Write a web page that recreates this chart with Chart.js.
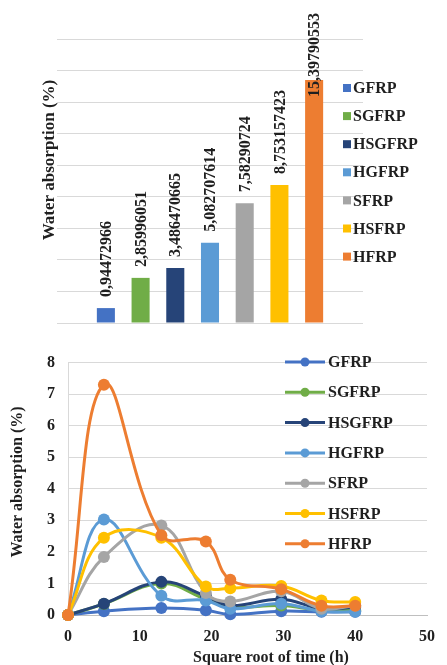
<!DOCTYPE html>
<html>
<head>
<meta charset="utf-8">
<script src="https://cdn.jsdelivr.net/npm/chart.js@4.4.1/dist/chart.umd.min.js"></script>
<style>
  html, body { margin: 0; padding: 0; background: #fff; }
  #wrap { position: relative; width: 447px; height: 665px; }
  #top { position: absolute; left: 0; top: 0; width: 447px; height: 340px; }
  #bottom { position: absolute; left: 0; top: 340px; width: 447px; height: 325px; }
</style>
</head>
<body>
<div id="wrap">
  <div id="top"><canvas id="barChart"></canvas></div>
  <div id="bottom"><canvas id="lineChart"></canvas></div>
</div>
<script>
// composites
const materials = ['GFRP', 'SGFRP', 'HSGFRP', 'HGFRP', 'SFRP', 'HSFRP', 'HFRP'];
// total water absorption (%)
const totalAbsorption = [0.94472966, 2.85996051, 3.486470665, 5.082707614, 7.58290724, 8.753157423, 15.39790553];

// square root of time (h)
const sqrtTime = [0, 5, 13, 19.2, 22.6, 29.7, 35.3, 40];
const gfrp   = [0, 0.12, 0.22, 0.15, 0.02, 0.12, 0.10, 0.10];
const sgfrp  = [0, 0.35, 1.00, 0.50, 0.25, 0.30, 0.15, 0.15];
const hsgfrp = [0, 0.36, 1.05, 0.60, 0.30, 0.50, 0.20, 0.25];
const hgfrp  = [0, 3.03, 0.61, 0.46, 0.20, 0.36, 0.12, 0.10];
const sfrp   = [0, 1.84, 2.84, 0.70, 0.43, 0.75, 0.20, 0.30];
const hsfrp  = [0, 2.45, 2.45, 0.90, 0.85, 0.92, 0.46, 0.41];
const hfrp   = [0, 7.30, 2.53, 2.33, 1.12, 0.82, 0.29, 0.29];
const series = [gfrp, sgfrp, hsgfrp, hgfrp, sfrp, hsfrp, hfrp];

const colors = ['#4472C4', '#70AD47', '#264478', '#5B9BD5', '#A5A5A5', '#FFC000', '#ED7D31'];
const FONT = 'bold 16px "Liberation Serif", "DejaVu Serif", serif';
const TXT = '#1f1f1f';

// ---------- top: bar chart ----------
const barPlugin = {
  id: 'barDeco',
  afterDatasetsDraw(chart) {
    const ctx = chart.ctx;
    ctx.save();
    ctx.font = FONT;
    ctx.fillStyle = TXT;
    // value labels, rotated
    chart.data.datasets.forEach((ds, i) => {
      const bar = chart.getDatasetMeta(i).data[0];
      const txt = String(ds.data[0]).replace('.', ',');
      const w = ctx.measureText(txt).width;
      let start = bar.y - 11;
      if (start - w < 13) start = 13 + w;
      ctx.save();
      ctx.translate(bar.x + 1, start);
      ctx.rotate(-Math.PI / 2);
      ctx.textAlign = 'left';
      ctx.textBaseline = 'middle';
      ctx.fillText(txt, 0, 0);
      ctx.restore();
    });
    // legend
    chart.data.datasets.forEach((ds, i) => {
      const y = 88 + i * 28.1;
      ctx.fillStyle = ds.backgroundColor;
      ctx.fillRect(343, y - 4, 8, 8);
      ctx.fillStyle = TXT;
      ctx.textAlign = 'left';
      ctx.textBaseline = 'middle';
      ctx.fillText(ds.label, 353, y + 1);
    });
    // y title
    ctx.save();
    ctx.font = 'bold 17px "Liberation Serif", serif';
    ctx.translate(50, 160);
    ctx.rotate(-Math.PI / 2);
    ctx.textAlign = 'center';
    ctx.textBaseline = 'middle';
    ctx.fillText('Water absorption (%)', 0, 0);
    ctx.restore();
    ctx.restore();
  }
};

new Chart(document.getElementById('barChart'), {
  type: 'bar',
  data: {
    labels: [''],
    datasets: materials.map((m, i) => ({
      label: m,
      data: [totalAbsorption[i]],
      backgroundColor: colors[i],
      categoryPercentage: 0.794,
      barPercentage: 0.52
    }))
  },
  options: {
    responsive: true,
    maintainAspectRatio: false,
    animation: false,
    layout: { autoPadding: false, padding: { left: 57, right: 84, top: 39, bottom: 17 } },
    scales: {
      x: { display: false },
      y: {
        min: 0, max: 18,
        ticks: { display: false, stepSize: 2 },
        grid: { color: '#d9d9d9', drawTicks: false },
        border: { display: false },
        afterFit: s => { s.width = 0; }
      }
    },
    plugins: { legend: { display: false }, tooltip: { enabled: false } }
  },
  plugins: [barPlugin]
});

// ---------- bottom: line chart ----------
const linePlugin = {
  id: 'lineDeco',
  afterDraw(chart) {
    const ctx = chart.ctx;
    ctx.save();
    ctx.font = FONT;
    // legend
    chart.data.datasets.forEach((ds, i) => {
      const y = 22 + i * 30.3;
      ctx.strokeStyle = ds.borderColor;
      ctx.lineWidth = 3;
      ctx.beginPath();
      ctx.moveTo(285, y);
      ctx.lineTo(325, y);
      ctx.stroke();
      ctx.fillStyle = ds.borderColor;
      ctx.beginPath();
      ctx.arc(305, y, 4.5, 0, Math.PI * 2);
      ctx.fill();
      ctx.fillStyle = TXT;
      ctx.textAlign = 'left';
      ctx.textBaseline = 'middle';
      ctx.fillText(ds.label, 328, y + 1);
    });
    // axis titles
    ctx.textAlign = 'center';
    ctx.textBaseline = 'middle';
    ctx.fillText('Square root of time (h)', 271, 318);
    ctx.save();
    ctx.translate(18, 142);
    ctx.rotate(-Math.PI / 2);
    ctx.fillText('Water absorption (%)', 0, 0);
    ctx.restore();
    ctx.restore();
  }
};

new Chart(document.getElementById('lineChart'), {
  type: 'line',
  data: {
    datasets: materials.map((m, i) => ({
      label: m,
      data: sqrtTime.map((t, k) => ({ x: t, y: series[i][k] })),
      borderColor: colors[i],
      backgroundColor: colors[i],
      borderWidth: 3,
      pointRadius: 6,
      pointBorderWidth: 0,
      tension: 0.4,
      clip: false,
      order: materials.length - i
    }))
  },
  options: {
    responsive: true,
    maintainAspectRatio: false,
    animation: false,
    layout: { autoPadding: false, padding: { left: 0, right: 9, top: 14, bottom: 0 } },
    scales: {
      x: {
        type: 'linear', min: 0, max: 50,
        ticks: { stepSize: 10, color: TXT, font: { family: '"Liberation Serif"', size: 16, weight: 'bold' }, padding: 12 },
        grid: { display: false, drawTicks: false },
        border: { color: '#bfbfbf', width: 1 },
        afterFit: s => { s.height = 50; }
      },
      y: {
        min: 0, max: 8,
        ticks: { stepSize: 1, color: TXT, font: { family: '"Liberation Serif"', size: 16, weight: 'bold' }, padding: 13 },
        grid: { color: '#d9d9d9', drawTicks: false },
        border: { color: '#d9d9d9', width: 1 },
        afterFit: s => { s.width = 68; }
      }
    },
    plugins: { legend: { display: false }, tooltip: { enabled: false } }
  },
  plugins: [linePlugin]
});
</script>
</body>
</html>
